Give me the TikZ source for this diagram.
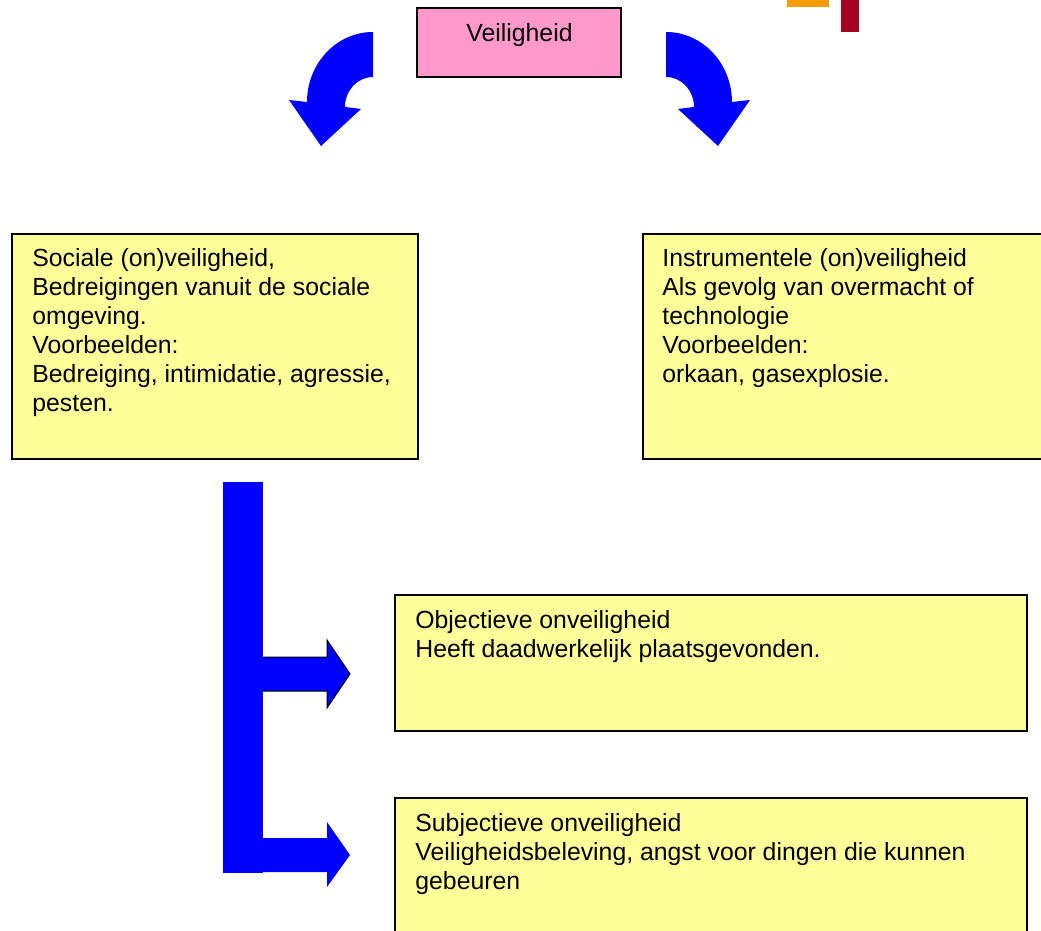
\documentclass[tikz,border=0pt]{standalone}
\usepackage{fontspec}
\setmainfont{Liberation Sans}
\definecolor{roze}{HTML}{FF99CC}
\definecolor{geel}{HTML}{FFFF99}
\definecolor{blauw}{HTML}{0000FF}
\definecolor{oranje}{HTML}{F49C00}
\definecolor{donkerrood}{HTML}{A50021}
\begin{document}
\begin{tikzpicture}[x=0.5pt,y=-0.5pt,
	vak/.style={draw=black,line width=0.75pt,fill=geel},
	tekst/.style={anchor=north west,align=left,inner sep=0pt,font=\fontsize{12.4}{14.5}\selectfont},
	pijl/.style={fill=blauw,draw=none}]
		\useasboundingbox (0,0) rectangle (1041,931);
		\clip (0,0) rectangle (1041,931);
		% hoekje rechtsboven
		\fill[oranje] (787,0) rectangle (829,7);
		\fill[donkerrood] (841,0) rectangle (859,32);
		% kop
		\draw[fill=roze,line width=0.75pt] (417,8) rectangle (621,77);
		\node[tekst,anchor=base] (veiligheid) at (519.5,42) {Veiligheid};
		% gebogen pijlen
		\fill[pijl] (373,32) .. controls (336.6,32) and (307,63.4) .. (307,102)
		-- (289,100) -- (321,146) -- (361,109) -- (345,107)
		.. controls (345,90.4) and (357.5,77) .. (373,77) -- cycle;
		\fill[pijl] (666,32) .. controls (702.4,32) and (732,63.4) .. (732,102)
		-- (750,100) -- (718,146) -- (678,109) -- (694,107)
		.. controls (694,90.4) and (681.5,77) .. (666,77) -- cycle;
		% sociale en instrumentele
		\draw[vak] (12,234) rectangle (418,459);
		\node[tekst] (sociaal) at (32,248) {Sociale (on)veiligheid,\\Bedreigingen vanuit de sociale\\omgeving.\\Voorbeelden:\\Bedreiging, intimidatie, agressie,\\pesten.};
		\draw[vak] (643,234) rectangle (1050,459);
		\node[tekst] (instrumenteel) at (662,248) {Instrumentele (on)veiligheid\\Als gevolg van overmacht of\\technologie\\Voorbeelden:\\orkaan, gasexplosie.};
		% balk met pijlen
		\fill[pijl] (223,482) rectangle (263,873);
		\fill[pijl] (263,657) -- (327,657) -- (327,640) -- (350,674) -- (327,708) -- (327,691) -- (263,691) -- cycle;
		\draw[line width=0.5pt] (263,657) -- (327,657) -- (327,640) -- (350,674) -- (327,708) -- (327,691) -- (263,691);
		\fill[pijl] (263,838) -- (327,838) -- (327,822) -- (350,855) -- (327,887) -- (327,872) -- (263,872) -- cycle;
		% objectieve en subjectieve
		\draw[vak] (395,595) rectangle (1027,731);
		\node[tekst] (objectief) at (415,610) {Objectieve onveiligheid\\Heeft daadwerkelijk plaatsgevonden.};
		\draw[vak] (395,798) rectangle (1027,950);
		\node[tekst] (subjectief) at (415,813) {Subjectieve onveiligheid\\Veiligheidsbeleving, angst voor dingen die kunnen\\gebeuren};
		\end{tikzpicture}
\end{document}
